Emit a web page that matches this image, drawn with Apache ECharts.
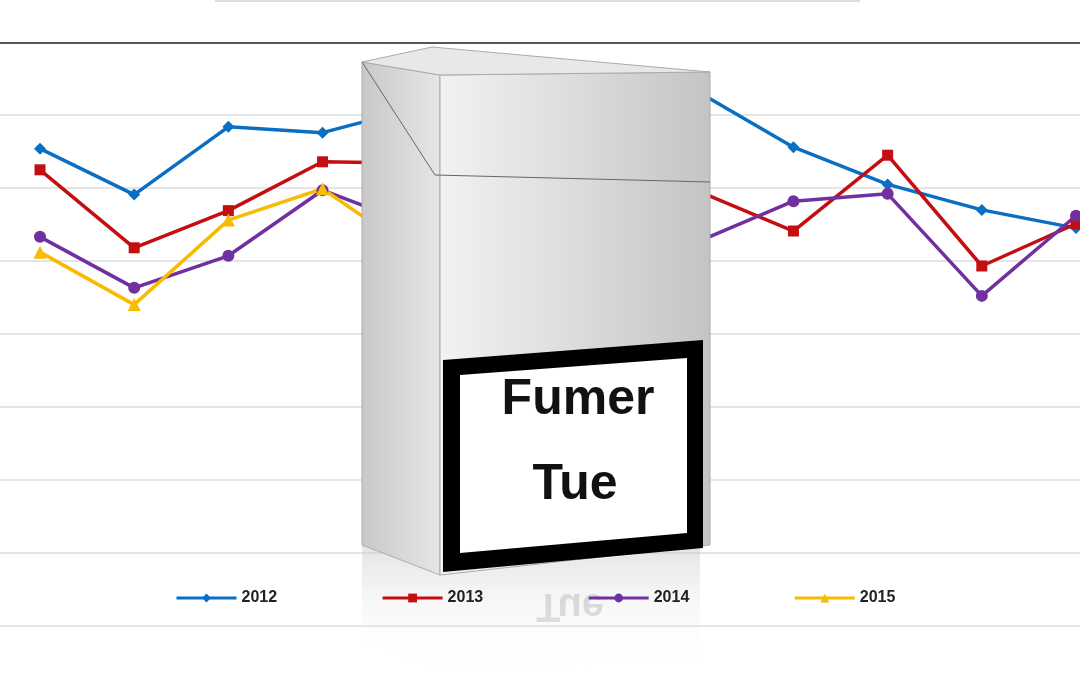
<!DOCTYPE html>
<html><head><meta charset="utf-8">
<script src="https://cdn.jsdelivr.net/npm/echarts@6/dist/echarts.min.js"></script>
<style>html,body{margin:0;padding:0;background:#fff}#c{width:1080px;height:675px}</style>
</head><body><div id="c"></div>
<script>
const categories = ['1','2','3','4','5','6','7','8','9','10','11','12'];
const s2012 = [5.55,4.92,5.85,5.77,6.11,6.35,6.43,6.32,5.57,5.06,4.71,4.46];
const s2013 = [5.26,4.19,4.70,5.37,5.35,5.01,5.96,4.96,4.42,5.46,3.94,4.52];
const s2014 = [4.34,3.64,4.08,4.98,4.49,5.12,5.31,4.28,4.83,4.93,3.53,4.63];
const s2015 = [4.13,3.41,4.57,5.00,4.11,5.46,null,null,null,null,null,null];
const names = ['2012','2013','2014','2015'];
const colors = ['#0a6fc2','#c40f12','#7030a0','#f7bc00'];
const symbols = ['diamond','rect','circle','triangle'];
const sizes = [12,11,12,13];
const data = [s2012,s2013,s2014,s2015];
const gridYs = [115,188,261,334,407,480,553,626];
const chart = echarts.init(document.getElementById('c'));
const LG = echarts.graphic.LinearGradient;
chart.setOption({
  animation:false,
  grid:{left:40,right:4,top:43,bottom:49},
  legend:{bottom:64,left:170,itemGap:104,itemWidth:60,itemHeight:11,z:20,
    lineStyle:{width:3},
    textStyle:{fontFamily:'Liberation Sans',fontWeight:'bold',fontSize:16,color:'#222'},
    data:names},
  xAxis:{type:'category',data:categories,boundaryGap:false,show:false},
  yAxis:{type:'value',min:-1,max:7,interval:1,show:false},
  series:names.map((n,i)=>({name:n,type:'line',data:data[i],symbol:symbols[i],symbolSize:sizes[i],
    lineStyle:{color:colors[i],width:3.5},itemStyle:{color:colors[i]},z:5})),
  graphic:{z:1,elements:[
    ...gridYs.map(y=>({type:'line',shape:{x1:0,y1:y,x2:1080,y2:y},style:{stroke:'#dcdcdc',lineWidth:1.5},z:1})),
    {type:'line',shape:{x1:0,y1:43,x2:1080,y2:43},style:{stroke:'#555',lineWidth:2},z:1},
    {type:'line',shape:{x1:215,y1:1,x2:860,y2:1},style:{stroke:'#ddd',lineWidth:2},z:1},
    {type:'polygon',shape:{points:[[362,545],[440,575],[700,548],[700,660],[440,670],[362,640]]},
      style:{fill:new LG(0,0,0,1,[{offset:0,color:'rgba(200,200,200,0.5)'},{offset:1,color:'rgba(255,255,255,0)'}])},z:5},
    {type:'text',style:{x:570,y:575,text:'Tue',font:'bold 40px Liberation Sans',fill:'rgba(0,0,0,0.12)',align:'center'},scaleY:-1,originY:600,z:6},
    {type:'polygon',shape:{points:[[362,62],[440,75],[440,575],[362,545]]},
      style:{fill:new LG(0,0,1,0,[{offset:0,color:'#c8c8c8'},{offset:1,color:'#e6e6e6'}]),stroke:'#aaa',lineWidth:1},z:10},
    {type:'polygon',shape:{points:[[440,75],[710,72],[710,545],[440,575]]},
      style:{fill:new LG(0,0,1,0,[{offset:0,color:'#f2f2f2'},{offset:0.5,color:'#dcdcdc'},{offset:1,color:'#c4c4c4'}]),stroke:'#aaa',lineWidth:1},z:10},
    {type:'polygon',shape:{points:[[362,62],[432,47],[710,72],[440,75]]},
      style:{fill:'#e8e8e8',stroke:'#aaa',lineWidth:1},z:10},
    {type:'polyline',shape:{points:[[362,62],[435,175],[710,182]]},style:{stroke:'#666',lineWidth:1,fill:null},z:11},
    {type:'polygon',shape:{points:[[443,360],[703,340],[703,548],[443,572]]},style:{fill:'#000'},z:12},
    {type:'polygon',shape:{points:[[460,375],[687,358],[687,533],[460,553]]},style:{fill:'#fff'},z:13},
    {type:'text',style:{x:578,y:400,text:'Fumer',font:'bold 50px Liberation Sans',fill:'#111',align:'center',verticalAlign:'middle'},z:14},
    {type:'text',style:{x:575,y:485,text:'Tue',font:'bold 50px Liberation Sans',fill:'#111',align:'center',verticalAlign:'middle'},z:14}
  ]}
});
</script></body></html>
